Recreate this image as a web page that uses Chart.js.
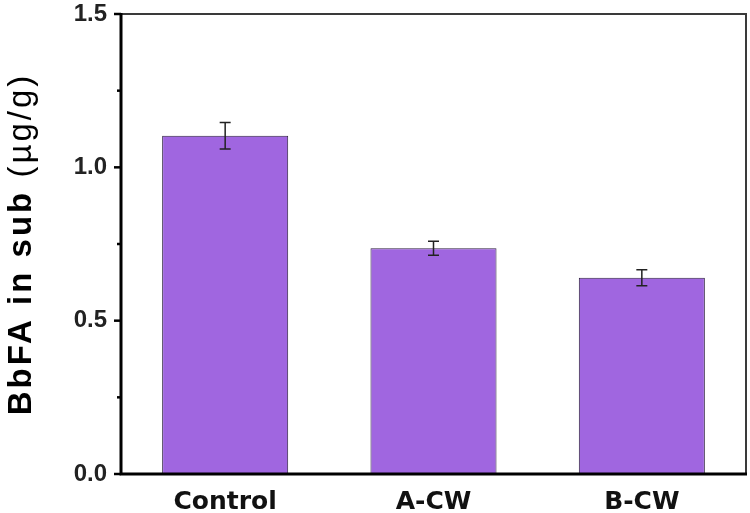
<!DOCTYPE html>
<html>
<head>
<meta charset="utf-8">
<script src="https://cdn.jsdelivr.net/npm/chart.js@4.4.1/dist/chart.umd.min.js"></script>
<style>
  html, body { margin: 0; padding: 0; background: #fff; }
  #wrap { width: 750px; height: 513px; }
</style>
</head>
<body>
<div id="wrap"><canvas id="bars" width="750" height="513"></canvas></div>
<script>
const categories = ["Control", "A-CW", "B-CW"];
const values = [1.103, 0.736, 0.640];
const errors = [0.043, 0.023, 0.026];
const majorTicks = [0, 0.5, 1.0, 1.5];
const minorTicks = [0.25, 0.75, 1.25];

const titleBold = "BbFA in sub ";
const titleUnit = "(\u00b5g/g)";

const errorBarPlugin = {
  id: "error-bars",
  afterDatasetsDraw(chart) {
    const { ctx } = chart;
    const y = chart.scales.y;
    const meta = chart.getDatasetMeta(0);
    ctx.save();
    ctx.strokeStyle = "#222";
    ctx.lineWidth = 1.5;
    meta.data.forEach((bar, i) => {
      const top = y.getPixelForValue(values[i] + errors[i]);
      const bot = y.getPixelForValue(values[i] - errors[i]);
      ctx.beginPath();
      ctx.moveTo(bar.x, top);
      ctx.lineTo(bar.x, bot);
      ctx.moveTo(bar.x - 5.5, top);
      ctx.lineTo(bar.x + 5.5, top);
      ctx.moveTo(bar.x - 5.5, bot);
      ctx.lineTo(bar.x + 5.5, bot);
      ctx.stroke();
    });
    ctx.restore();
  },
};

const framePlugin = {
  id: "frame",
  afterDraw(chart) {
    const { ctx, chartArea } = chart;
    const { left, right, top, bottom } = chartArea;
    const y = chart.scales.y;
    ctx.save();
    // top and right, thinner grey
    ctx.strokeStyle = "#3a3a3a";
    ctx.lineWidth = 2;
    ctx.beginPath();
    ctx.moveTo(left, top);
    ctx.lineTo(right, top);
    ctx.lineTo(right, bottom);
    ctx.stroke();
    // left and bottom, heavy black
    ctx.strokeStyle = "#000";
    ctx.lineWidth = 3;
    ctx.beginPath();
    ctx.moveTo(left, top - 1);
    ctx.lineTo(left, bottom);
    ctx.lineTo(right + 1, bottom);
    ctx.stroke();
    // ticks
    ctx.lineWidth = 2.5;
    majorTicks.forEach(v => {
      const py = y.getPixelForValue(v);
      ctx.beginPath();
      ctx.moveTo(left - 7, py);
      ctx.lineTo(left, py);
      ctx.stroke();
    });
    minorTicks.forEach(v => {
      const py = y.getPixelForValue(v);
      ctx.beginPath();
      ctx.moveTo(left - 4, py);
      ctx.lineTo(left, py);
      ctx.stroke();
    });
    // axis title, bold part and regular unit
    ctx.translate(22, (top + bottom) / 2);
    ctx.rotate(-Math.PI / 2);
    ctx.fillStyle = "#000";
    ctx.textBaseline = "middle";
    ctx.letterSpacing = "3px";
    ctx.font = "bold 33px Arial, 'Liberation Sans', sans-serif";
    const wBold = ctx.measureText(titleBold).width;
    ctx.font = "33px Arial, 'Liberation Sans', sans-serif";
    const wUnit = ctx.measureText(titleUnit).width;
    const x0 = -(wBold + wUnit) / 2;
    ctx.textAlign = "left";
    ctx.font = "bold 33px Arial, 'Liberation Sans', sans-serif";
    ctx.fillText(titleBold, x0, 0);
    ctx.font = "33px Arial, 'Liberation Sans', sans-serif";
    ctx.fillText(titleUnit, x0 + wBold, 0);
    ctx.restore();
  },
};

new Chart(document.getElementById("bars"), {
  type: "bar",
  data: {
    labels: categories,
    datasets: [{
      data: values,
      backgroundColor: "#a066e0",
      borderColor: "#2e2040",
      borderWidth: 1,
      barPercentage: 0.605,
      categoryPercentage: 1,
    }],
  },
  options: {
    responsive: false,
    animation: false,
    layout: { padding: { left: 0, right: 4, top: 14, bottom: 0 } },
    plugins: {
      legend: { display: false },
      tooltip: { enabled: false },
    },
    scales: {
      x: {
        grid: { display: false },
        border: { display: false },
        ticks: {
          color: "#111",
          padding: 5,
          font: { family: "'DejaVu Sans', sans-serif", size: 25, weight: "bold" },
        },
        afterFit(scale) {
          scale.height = 39;
          scale.paddingLeft = 0;
          scale.paddingRight = 0;
        },
      },
      y: {
        min: 0,
        max: 1.5,
        grid: { display: false },
        border: { display: false },
        ticks: {
          stepSize: 0.5,
          color: "#222",
          padding: 6,
          font: { family: "Arial, 'Liberation Sans', sans-serif", size: 24, weight: "bold" },
          callback: v => Number(v).toFixed(1),
        },
        afterFit(scale) {
          scale.width = 121;
          scale.paddingTop = 0;
          scale.paddingBottom = 0;
        },
      },
    },
  },
  plugins: [errorBarPlugin, framePlugin],
});
</script>
</body>
</html>
